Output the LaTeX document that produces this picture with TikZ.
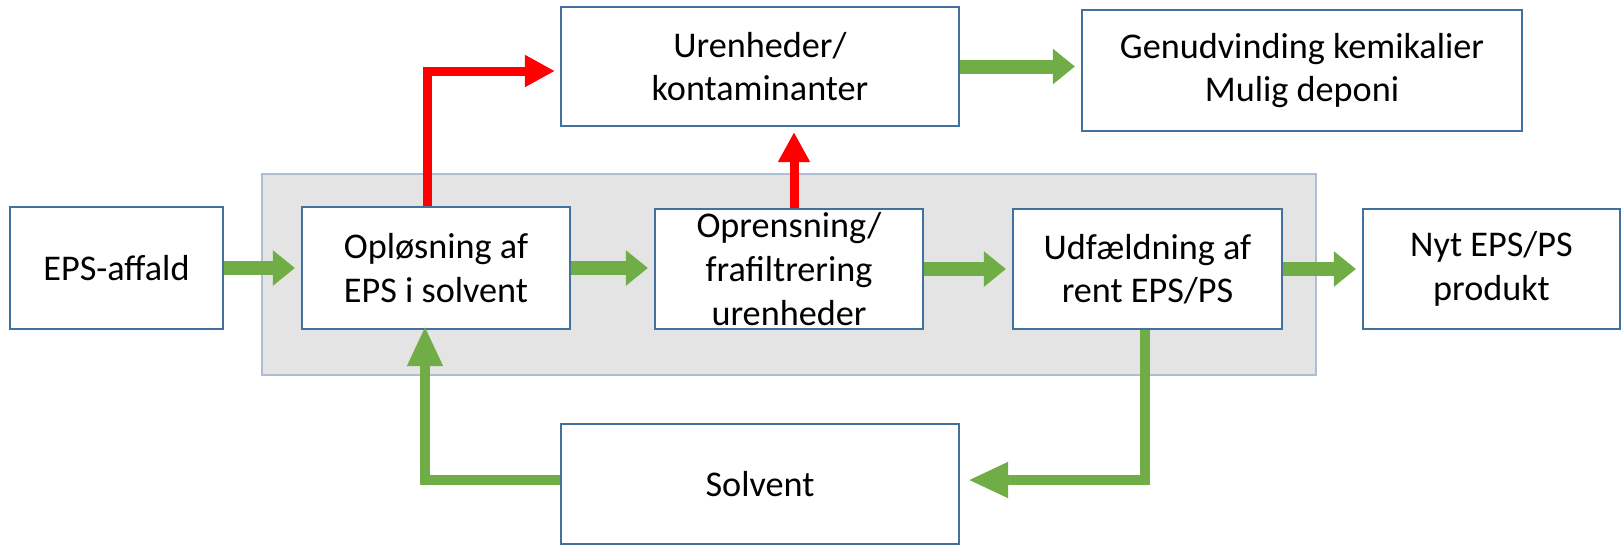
\documentclass[tikz,border=0pt]{standalone}
\usepackage{fontspec}
\setmainfont{Carlito}
\usetikzlibrary{arrows.meta}
\definecolor{boxline}{RGB}{65,113,156}
\definecolor{flowgreen}{RGB}{112,173,71}
\definecolor{panelline}{RGB}{173,190,210}
\definecolor{panelfill}{RGB}{228,228,228}

\begin{document}
\begin{tikzpicture}[x=0.1mm,y=-0.1mm,
  stepbox/.style={draw=boxline, line width=0.6pt, fill=white, align=center,
    inner sep=0pt, font=\fontsize{10.3}{12.4}\selectfont},
  flow/.style={draw=flowgreen, line width=1.4mm,
    -{Triangle[width=3.4mm,length=2.2mm]}, shorten >=0.6mm},
  loop/.style={draw=flowgreen, line width=1mm,
    -{Triangle[width=3.3mm,length=4mm]}, shorten >=0.8mm},
  reject/.style={draw=red, line width=0.9mm,
    -{Triangle[width=3mm,length=3mm]}, shorten >=0.5mm}]
\useasboundingbox (0,0) rectangle (1621,547);
\fill[panelfill, draw=panelline, line width=0.6pt] (262,174) rectangle (1316,375);

\node[stepbox, minimum width=21.3mm, minimum height=12.2mm] (affald) at (116.5,268) {EPS-affald};
\node[stepbox, minimum width=26.8mm, minimum height=12.2mm] (oploes) at (436,268) {Opløsning af\\EPS i solvent};
\node[stepbox, minimum width=26.8mm, minimum height=12mm] (oprens) at (789,269) {Oprensning/\\frafiltrering\\urenheder};
\node[stepbox, minimum width=26.9mm, minimum height=12mm] (udfael) at (1147.5,269) {Udfældning af\\rent EPS/PS};
\node[stepbox, minimum width=25.7mm, minimum height=12mm] (nyt) at (1491.5,269) {Nyt EPS/PS\\produkt};
\node[stepbox, minimum width=39.8mm, minimum height=11.9mm] (uren) at (760,66.5) {Urenheder/\\kontaminanter};
\node[stepbox, minimum width=44mm, minimum height=12.1mm] (genud) at (1302,70.5) {Genudvinding kemikalier\\Mulig deponi};
\node[stepbox, minimum width=39.8mm, minimum height=12mm] (solv) at (760,484) {Solvent};

% main line
\draw[flow] (affald) -- (oploes);
\draw[flow] (oploes.east) -- (oploes.east -| oprens.west);
\draw[flow] (oprens) -- (udfael);
\draw[flow] (udfael) -- (nyt);
\draw[flow] (uren.east) -- (genud.west |- uren.east);

% impurities out
\draw[reject] ([xshift=-0.9mm]oploes.north) |- ([yshift=-0.45mm]uren.west);
\draw[reject] ([xshift=0.5mm]oprens.north) -- ([xshift=0.5mm]oprens.north |- uren.south);

% solvent recycling
\draw[loop] ([xshift=-0.3mm]udfael.south) |- ([yshift=0.4mm]solv.east);
\draw[loop] ([yshift=0.4mm]solv.west) -| ([xshift=-1.1mm,yshift=1.2mm]oploes.south);
\end{tikzpicture}
\end{document}
